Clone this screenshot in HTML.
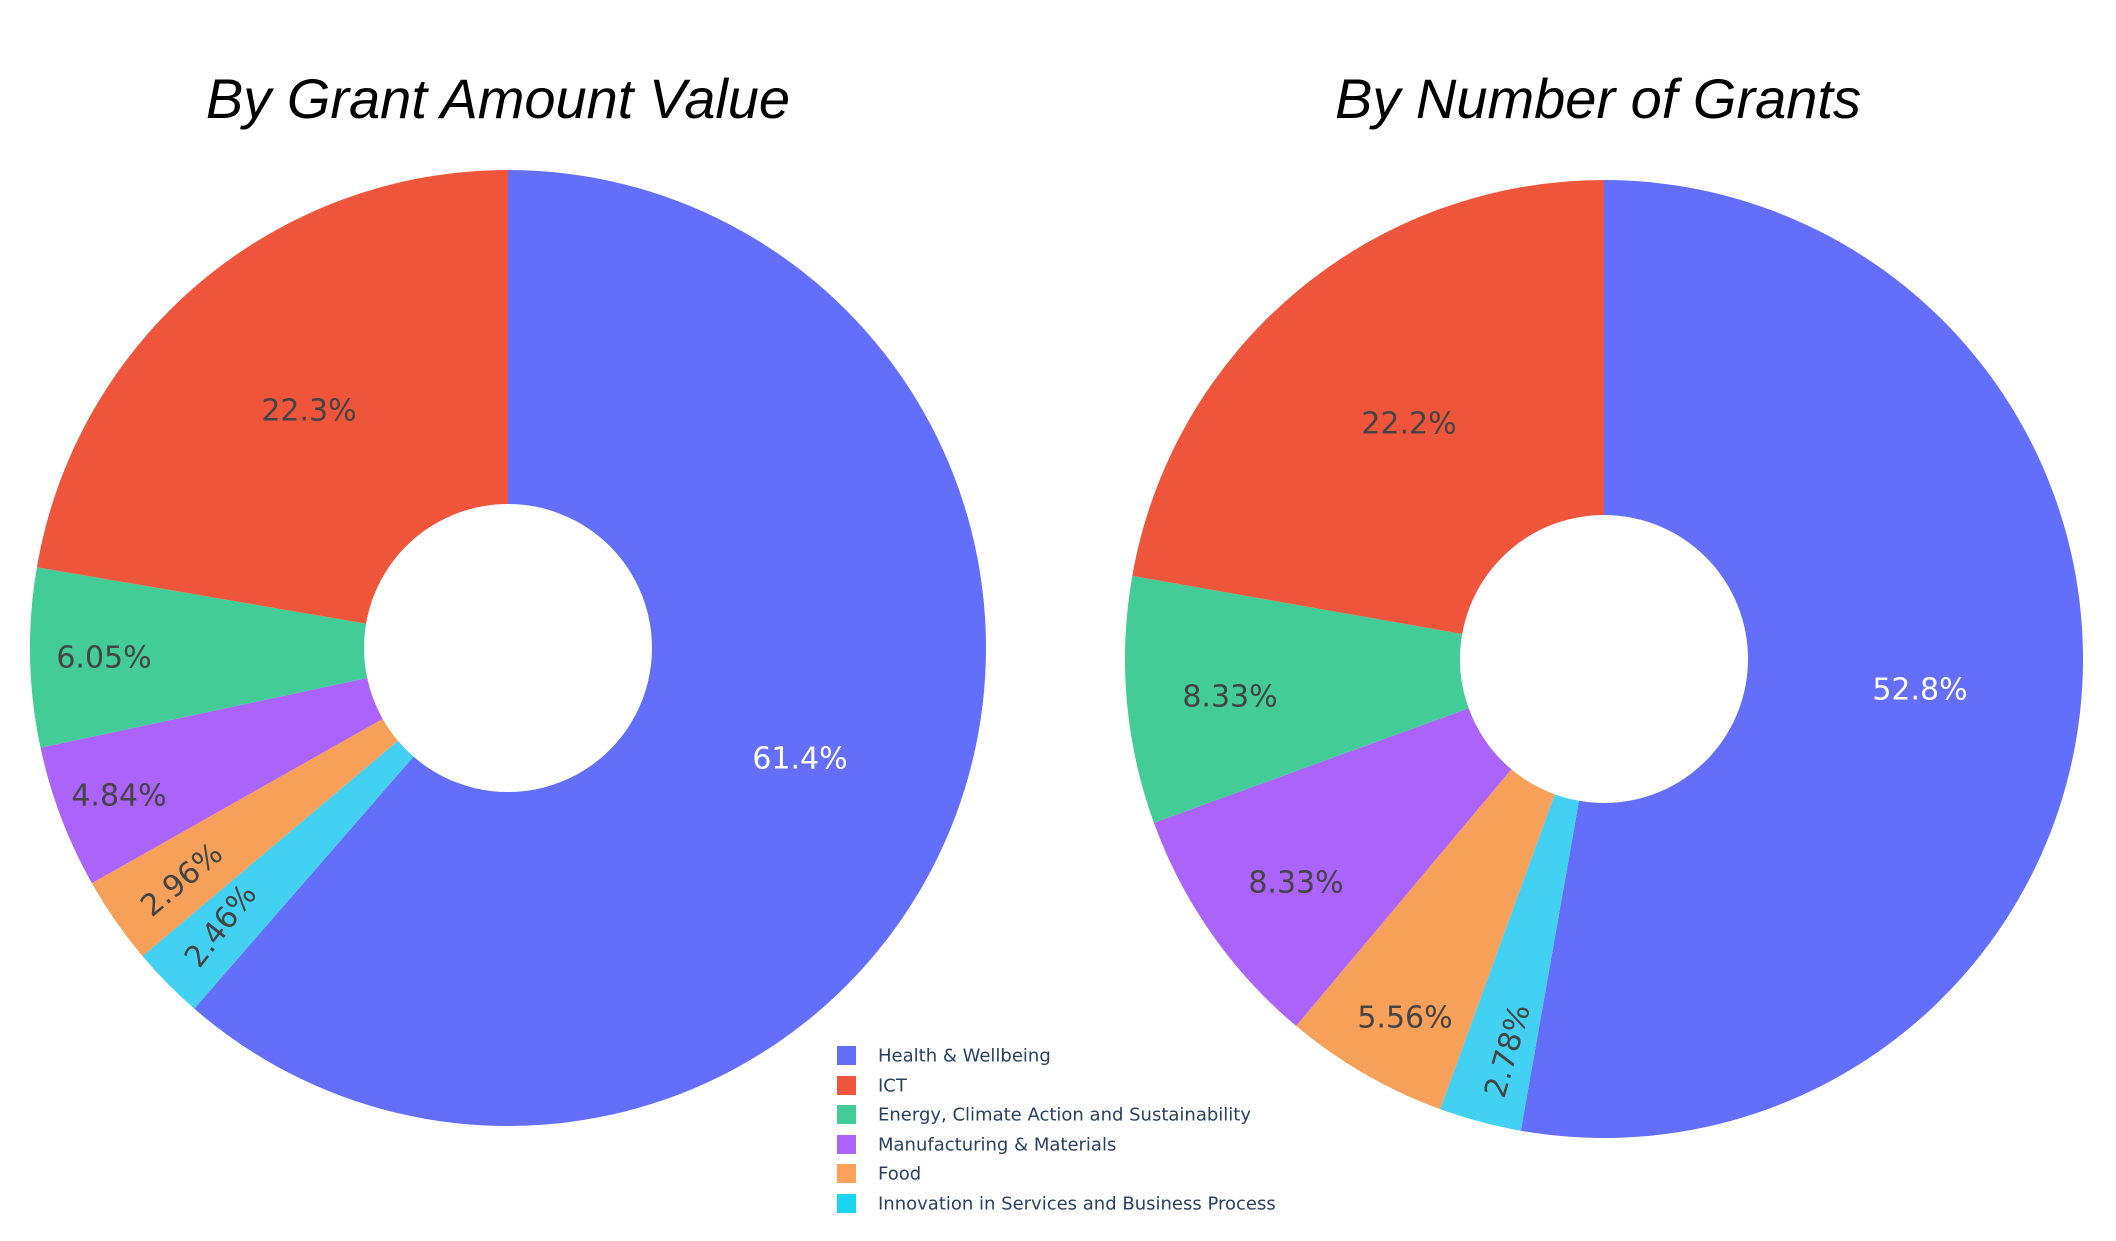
<!DOCTYPE html>
<html><head><meta charset="utf-8"><style>
body{margin:0;background:#fff;}
svg{display:block}
</style></head><body>
<svg id="s" width="2116" height="1241" xmlns="http://www.w3.org/2000/svg">
<rect width="2116" height="1241" fill="#fff"/>
<g id="pies"></g>
<text x="498" y="118" font-family="Liberation Sans, Arial, sans-serif" font-style="italic" font-size="56" text-anchor="middle" fill="#000">By Grant Amount Value</text>
<text x="1598" y="118" font-family="Liberation Sans, Arial, sans-serif" font-style="italic" font-size="56" text-anchor="middle" fill="#000">By Number of Grants</text>
<g font-family="DejaVu Sans, sans-serif" font-size="30" fill="#444" text-anchor="middle" dominant-baseline="central">
<text x="309" y="411">22.3%</text>
<text x="104" y="658">6.05%</text>
<text x="119" y="796">4.84%</text>
<text transform="translate(182,880) rotate(-40)">2.96%</text>
<text transform="translate(221,926) rotate(-52)">2.46%</text>
<text x="800" y="759" fill="#fff">61.4%</text>
<text x="1409" y="424">22.2%</text>
<text x="1230" y="697">8.33%</text>
<text x="1296" y="883">8.33%</text>
<text x="1405" y="1018">5.56%</text>
<text transform="translate(1508,1051) rotate(-74)">2.78%</text>
<text x="1920" y="690" fill="#fff">52.8%</text>
</g>
<g font-family="DejaVu Sans, Liberation Sans, sans-serif" font-size="18" fill="#2a3f5f" dominant-baseline="central">
<rect x="837" y="1046" width="19" height="19" fill="#636efa"/><text x="878" y="1056">Health &amp; Wellbeing</text>
<rect x="837" y="1076" width="19" height="19" fill="#ef553b"/><text x="878" y="1086">ICT</text>
<rect x="837" y="1105" width="19" height="19" fill="#43cc97"/><text x="878" y="1115">Energy, Climate Action and Sustainability</text>
<rect x="837" y="1135" width="19" height="19" fill="#ab63fa"/><text x="878" y="1145">Manufacturing &amp; Materials</text>
<rect x="837" y="1164" width="19" height="19" fill="#ffa15a"/><text x="878" y="1174">Food</text>
<rect x="837" y="1194" width="19" height="19" fill="#19d3f3"/><text x="878" y="1204">Innovation in Services and Business Process</text>
</g>
</svg>
<script>
var cols=["#636efa","#43d1f3","#f7a05a","#ab63fa","#43cc97","#ef553b"];
function pie(cx,cy,r,hr,vals){
  var tot=vals.reduce((a,b)=>a+b,0),a=0,out="";
  vals.forEach(function(v,i){
    var a0=a,a1=a+v/tot*2*Math.PI;a=a1;
    var p=function(ang,rr){return [cx+rr*Math.sin(ang),cy-rr*Math.cos(ang)];};
    var P0=p(a0,r),P1=p(a1,r),Q1=p(a1,hr),Q0=p(a0,hr),L=(a1-a0)>Math.PI?1:0;
    out+='<path fill="'+cols[i]+'" d="M'+P0+' A'+r+','+r+' 0 '+L+' 1 '+P1+' L'+Q1+' A'+hr+','+hr+' 0 '+L+' 0 '+Q0+' Z"/>';
  });
  return out;
}
document.getElementById("pies").innerHTML=
  pie(508,648,478,144,[61.4,2.46,2.96,4.84,6.05,22.3])+
  pie(1604,659,479,144,[19,1,2,3,3,8]);
</script>
</body></html>
